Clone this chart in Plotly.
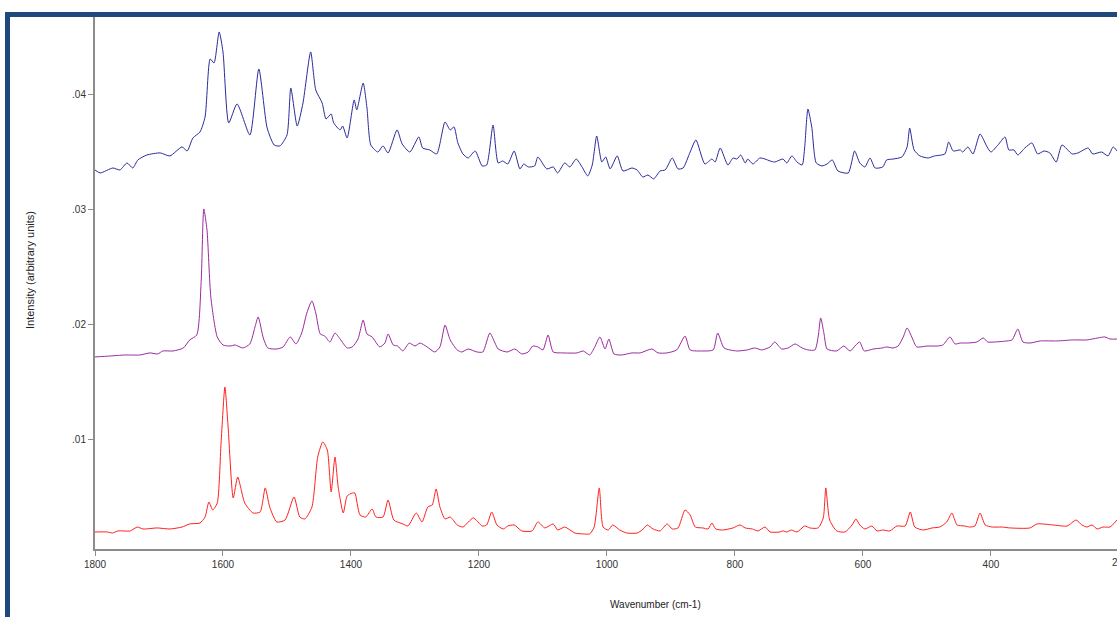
import plotly.graph_objects as go

# ---------------- data ----------------
blue_wn = [1800,1792,1772,1761,1750,1741,1733,1719,1698,1683,1664,1656,1647,1636,1628,1620,1614,1606,1600,1591,
           1578,1558,1544,1531,1520,1511,1500,1494,1484,1475,1463,1455,1445,1439,1431,1427,1417,1413,1406,1395,
           1391,1381,1375,1369,1358,1350,1342,1328,1320,1308,1294,1288,1277,1266,1253,1245,1239,1233,1225,1217,
           1206,1195,1188,1178,1170,1163,1155,1145,1136,1130,1123,1113,1108,1094,1084,1077,1066,1058,1048,1039,
           1030,1023,1016,1008,1002,995,984,975,961,953,944,936,927,917,909,898,889,881,870,861,
           847,836,831,823,811,803,797,791,784,780,772,761,753,745,738,725,719,711,703,695,
           691,686,680,673,664,656,648,639,623,613,605,597,589,581,569,563,553,539,531,527,
           520,511,498,488,472,466,459,448,444,436,428,417,406,400,389,378,372,364,358,347,
           336,327,317,308,298,289,273,264,248,241,227,217,209,203]
blue_int = [.03348,.03322,.03365,.03348,.03409,.03365,.03435,.03478,.03496,.03470,.03548,.03513,.03626,.03678,.03809,.04313,.04278,.04548,.04374,.03757,
            .03922,.03652,.04226,.03713,.03565,.03557,.03652,.04061,.03730,.03930,.04374,.04043,.03930,.03791,.03835,.03757,.03696,.03730,.03626,.03957,
            .03870,.04104,.03887,.03565,.03504,.03557,.03496,.03696,.03574,.03504,.03635,.03539,.03522,.03487,.03765,.03696,.03722,.03583,.03487,.03452,
            .03513,.03383,.03391,.03739,.03409,.03426,.03400,.03513,.03357,.03400,.03374,.03383,.03461,.03357,.03374,.03322,.03409,.03374,.03443,.03374,
            .03296,.03391,.03643,.03417,.03461,.03357,.03470,.03339,.03365,.03348,.03287,.03304,.03270,.03339,.03348,.03452,.03357,.03365,.03504,.03609,
            .03400,.03443,.03417,.03539,.03391,.03452,.03443,.03478,.03409,.03443,.03400,.03452,.03443,.03426,.03417,.03443,.03409,.03470,.03417,.03391,
            .03548,.03878,.03722,.03409,.03383,.03400,.03435,.03339,.03322,.03513,.03409,.03374,.03452,.03365,.03374,.03435,.03443,.03461,.03548,.03713,
            .03522,.03470,.03452,.03470,.03487,.03591,.03513,.03522,.03504,.03548,.03487,.03661,.03548,.03504,.03565,.03635,.03522,.03522,.03478,.03539,
            .03583,.03487,.03513,.03496,.03417,.03565,.03487,.03496,.03539,.03487,.03504,.03470,.03548,.03513]

purple_wn = [1800,1777,1753,1730,1714,1702,1694,1678,1662,1652,1641,1634,1630,1625,1619,1609,1600,1589,1581,1569,
             1558,1550,1545,1537,1530,1516,1506,1495,1486,1477,1469,1461,1455,1448,1441,1433,1425,1417,1406,1398,
             1389,1381,1375,1367,1355,1347,1342,1334,1327,1319,1309,1300,1292,1281,1269,1261,1253,1245,1234,1227,
             1217,1203,1194,1183,1175,1170,1156,1144,1133,1123,1116,1108,1100,1092,1084,1069,1047,1037,1027,1019,
             1011,1003,997,989,977,961,948,930,920,906,891,878,870,850,834,827,817,797,781,769,
             758,745,738,727,717,706,695,686,675,670,666,661,656,641,630,620,611,605,598,584,
             570,563,553,545,537,531,523,516,500,484,475,464,456,448,437,422,412,405,394,375,
             367,358,350,339,323,297,272,250,233,222,214,203]
purple_int = [.01722,.01730,.01739,.01739,.01757,.01748,.01774,.01774,.01800,.01870,.01913,.02391,.03009,.02826,.02243,.01896,.01826,.01817,.01826,.01800,
              .01835,.01983,.02070,.01887,.01800,.01791,.01809,.01896,.01835,.01930,.02104,.02209,.02104,.01922,.01904,.01852,.01930,.01878,.01800,.01809,
              .01878,.02043,.01922,.01896,.01809,.01843,.01922,.01826,.01817,.01774,.01843,.01817,.01843,.01809,.01765,.01809,.02000,.01870,.01783,.01765,
              .01791,.01765,.01765,.01930,.01843,.01791,.01765,.01791,.01748,.01765,.01817,.01809,.01783,.01913,.01765,.01757,.01757,.01774,.01739,.01809,
              .01896,.01791,.01878,.01748,.01739,.01757,.01757,.01791,.01757,.01757,.01783,.01904,.01783,.01774,.01783,.01930,.01800,.01774,.01783,.01800,
              .01783,.01809,.01852,.01791,.01800,.01835,.01800,.01783,.01783,.01896,.02061,.01930,.01791,.01774,.01817,.01774,.01826,.01852,.01774,.01791,
              .01800,.01809,.01800,.01817,.01896,.01974,.01887,.01809,.01817,.01817,.01826,.01896,.01835,.01843,.01843,.01852,.01887,.01852,.01852,.01861,
              .01870,.01965,.01852,.01843,.01861,.01861,.01870,.01870,.01887,.01896,.01878,.01878]

red_wn = [1800,1781,1773,1764,1745,1734,1725,1703,1683,1664,1652,1636,1628,1622,1616,1609,1603,1597,1592,1584,
          1577,1566,1553,1542,1534,1527,1516,1503,1489,1480,1472,1461,1452,1444,1437,1431,1425,1420,1412,1406,
          1398,1394,1386,1377,1367,1361,1350,1342,1333,1319,1311,1298,1289,1280,1273,1267,1261,1253,1245,1234,
          1225,1209,1195,1188,1180,1172,1162,1155,1145,1133,1117,1108,1097,1084,1077,1066,1050,1037,1027,1020,
          1012,1006,998,991,980,969,953,945,937,928,917,906,898,889,878,870,862,850,842,836,
          830,819,803,792,784,773,764,753,745,730,725,719,712,703,691,683,670,662,658,652,
          641,628,617,611,605,597,586,578,569,558,547,534,526,519,506,492,480,469,461,453,
          441,433,425,417,409,398,383,370,339,328,303,281,267,258,250,242,234,225,214,203]
red_int = [.00200,.00200,.00191,.00209,.00209,.00243,.00226,.00235,.00226,.00243,.00270,.00278,.00330,.00461,.00391,.00452,.00974,.01461,.01113,.00496,
           .00678,.00452,.00365,.00374,.00583,.00417,.00287,.00304,.00504,.00330,.00313,.00417,.00852,.00983,.00913,.00548,.00852,.00591,.00365,.00513,
           .00539,.00539,.00348,.00330,.00400,.00330,.00330,.00478,.00304,.00270,.00252,.00365,.00287,.00417,.00435,.00574,.00417,.00313,.00330,.00261,
           .00243,.00322,.00252,.00261,.00374,.00261,.00226,.00252,.00261,.00209,.00209,.00287,.00235,.00270,.00217,.00243,.00191,.00183,.00183,.00243,
           .00583,.00243,.00217,.00261,.00217,.00191,.00191,.00217,.00261,.00226,.00209,.00270,.00226,.00235,.00391,.00348,.00243,.00235,.00226,.00278,
           .00226,.00217,.00235,.00261,.00235,.00226,.00209,.00243,.00200,.00200,.00209,.00200,.00217,.00200,.00252,.00235,.00235,.00322,.00583,.00304,
           .00209,.00200,.00261,.00313,.00261,.00226,.00252,.00209,.00217,.00209,.00252,.00252,.00374,.00243,.00217,.00235,.00243,.00287,.00365,.00261,
           .00252,.00243,.00252,.00365,.00261,.00243,.00243,.00235,.00235,.00270,.00261,.00252,.00304,.00261,.00243,.00261,.00226,.00243,.00243,.00304]

x_ticks = [1800, 1600, 1400, 1200, 1000, 800, 600, 400, 200]
x_tick_labels = ["1800", "1600", "1400", "1200", "1000", "800", "600", "400", "200"]
y_ticks = [0.01, 0.02, 0.03, 0.04]
y_tick_labels = [".01", ".02", ".03", ".04"]

series = [
    ("Sample A", blue_wn, blue_int, "#2a2a9c"),
    ("Sample B", purple_wn, purple_int, "#9a2aa0"),
    ("Sample C", red_wn, red_int, "#ff1f1f"),
]

# ---------------- figure ----------------
fig = go.Figure()
for name, wn, val, col in series:
    fig.add_trace(go.Scatter(x=wn, y=val, mode="lines", name=name,
                             line=dict(color=col, width=1, shape="spline", smoothing=0.6),
                             hoverinfo="x+y"))

W, H = 1117, 617
L, R, T, B = 95, 0, 17, 68
pw, ph = W - L - R, H - T - B

def px(xp):
    return (xp - L) / pw

def py(yp):
    return (H - B - yp) / ph

frame = "#1f497d"
fig.update_layout(
    width=W, height=H,
    margin=dict(l=L, r=R, t=T, b=B, pad=0),
    paper_bgcolor="white", plot_bgcolor="white",
    showlegend=False,
    font=dict(family="Arial, Liberation Sans, sans-serif", size=10, color="#333333"),
    xaxis=dict(range=[1800, 203], tickvals=x_ticks, ticktext=x_tick_labels,
               showgrid=False, zeroline=False, showline=True, linecolor="#8c8c8c", linewidth=2,
               ticks="outside", ticklen=5, tickwidth=1, tickcolor="#8c8c8c",
               tickfont=dict(size=10, color="#333333")),
    yaxis=dict(range=[0.00052, 0.04678], tickvals=y_ticks, ticktext=y_tick_labels,
               showgrid=False, zeroline=False, showline=True, linecolor="#8c8c8c", linewidth=2,
               ticks="outside", ticklen=5, tickwidth=1, tickcolor="#8c8c8c",
               tickfont=dict(size=10, color="#333333")),
    shapes=[
        dict(type="rect", xref="paper", yref="paper", x0=px(5), x1=px(1130), y0=py(17), y1=py(12),
             fillcolor=frame, line=dict(width=0), layer="above"),
        dict(type="rect", xref="paper", yref="paper", x0=px(5), x1=px(10), y0=py(630), y1=py(12),
             fillcolor=frame, line=dict(width=0), layer="above"),
    ],
    annotations=[
        dict(text="Intensity (arbitrary units)", xref="paper", yref="paper",
             x=px(30), y=py(270), textangle=-90, showarrow=False,
             xanchor="center", yanchor="middle", font=dict(size=11, color="#222222")),
        dict(text="Wavenumber (cm-1)", xref="paper", yref="paper",
             x=px(655), y=py(604), showarrow=False,
             xanchor="center", yanchor="middle", font=dict(size=10, color="#222222")),
        dict(text="200", xref="paper", yref="paper", x=px(1120), y=py(562), showarrow=False,
             xanchor="center", yanchor="middle", font=dict(size=10, color="#333333")),
    ],
)

fig.write_html("out.html", config={"displayModeBar": False},
               post_script="document.body.style.margin='0';")
